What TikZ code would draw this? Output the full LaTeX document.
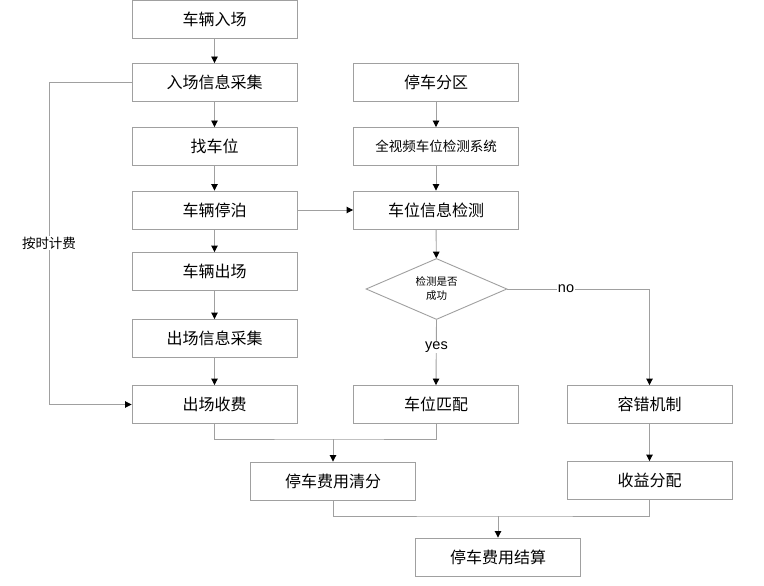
\documentclass[tikz,border=0pt]{standalone}
\usepackage{fontspec}
\setmainfont{Liberation Sans}
\newfontfamily\cjk{Noto Sans CJK SC}
\usetikzlibrary{arrows.meta,shapes.geometric}
\definecolor{edgegray}{HTML}{A0A0A0}
\tikzset{
  x=1pt,y=-1pt,
  box/.style={draw=edgegray,line width=0.9pt,minimum width=165pt,minimum height=38pt,inner sep=0pt,font=\cjk\fontsize{16}{18}\selectfont},
  smallbox/.style={box,font=\cjk\fontsize{13.5}{15}\selectfont},
  decision/.style={diamond,draw=edgegray,line width=0.9pt,minimum width=141pt,minimum height=61pt,inner sep=0pt,aspect=2.3,align=center,font=\cjk\fontsize{10.5}{14}\selectfont},
  conn/.style={draw=edgegray,line width=0.9pt},
  arr/.style={conn,-{Triangle[width=6.5pt,length=6.5pt,color=black,fill=black]}},
  lbl/.style={fill=white,inner sep=1pt},
}
\begin{document}
\begin{tikzpicture}
\useasboundingbox (0,0) rectangle (764,586);
\fill[white] (0,0) rectangle (764,586);
% left column
\node[box] (a1) at (214.5,19) {车辆入场};
\node[box] (a2) at (214.5,82.5) {入场信息采集};
\node[box] (a3) at (214.5,146.5) {找车位};
\node[box] (a4) at (214.5,210) {车辆停泊};
\node[box] (a5) at (214.5,271.5) {车辆出场};
\node[box] (a6) at (214.5,338.5) {出场信息采集};
\node[box] (a7) at (214.5,404.5) {出场收费};
% middle column
\node[box] (m1) at (436,82.5) {停车分区};
\node[smallbox] (m2) at (436,146.5) {全视频车位检测系统};
\node[box] (m3) at (436,210) {车位信息检测};
\node[decision] (d) at (436.5,289) {检测是否\\成功};
\node[box] (m5) at (436,404.5) {车位匹配};
% right column
\node[box] (r1) at (649.5,404.5) {容错机制};
\node[box] (r2) at (649.5,480.5) {收益分配};
% bottom
\node[box] (qf) at (333,481) {停车费用清分};
\node[box] (js) at (498,557) {停车费用结算};
% arrows left column
\draw[arr] (a1) -- (a2);
\draw[arr] (a2) -- (a3);
\draw[arr] (a3) -- (a4);
\draw[arr] (a4) -- (a5);
\draw[arr] (a5) -- (a6);
\draw[arr] (a6) -- (a7);
% loop
\coordinate (lp) at (49,82.5);
\draw[arr] (a2.west) -- (lp) |- (a7.west);
\node[lbl,font=\cjk\fontsize{13.5}{15}\selectfont] (lt) at (49,243) {按时计费};
% middle
\draw[arr] (a4) -- (m3);
\draw[arr] (m1) -- (m2);
\draw[arr] (m2) -- (m3);
\draw[arr] (m3) -- (d);
\draw[arr] (d.south) -- (m5.north);
\node[lbl,font=\fontsize{14.5}{16}\selectfont] (yes) at (436.5,347) {yes};
\coordinate (nc) at (649.5,289);
\draw[arr] (d.east) -- (nc) -- (r1.north);
\node[lbl,font=\fontsize{14.5}{16}\selectfont] (no) at (566,289) {no};
\draw[arr] (r1) -- (r2);
% merges
\coordinate (j1) at (333,439);
\draw[conn] (a7.south) |- (j1) -| (m5.south);
\draw[arr] (j1) -- (qf.north);
\coordinate (j2) at (498,516);
\draw[conn] (qf.south) |- (j2) -| (r2.south);
\draw[arr] (j2) -- (js.north);
\end{tikzpicture}
\end{document}
